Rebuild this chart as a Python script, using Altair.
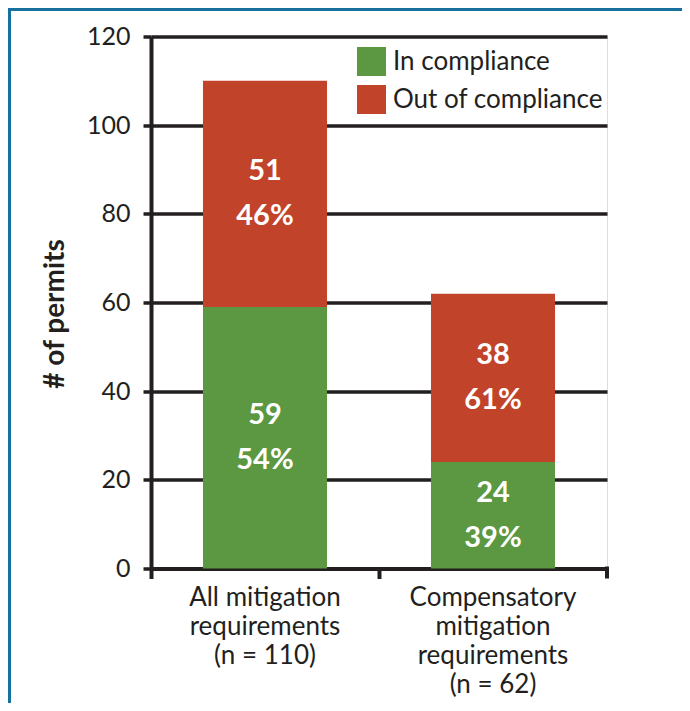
import altair as alt
import pandas as pd

categories = ["All mitigation|requirements|(n = 110)",
              "Compensatory|mitigation|requirements|(n = 62)"]
statuses = ["In compliance", "Out of compliance"]
in_counts = [59, 24]
out_counts = [51, 38]
in_pct = [54, 39]
out_pct = [46, 61]
y_ticks = [0, 20, 40, 60, 80, 100, 120]
colors = ["#5B9841", "#C1432A"]

rows = []
for i, c in enumerate(categories):
    rows.append({"category": c, "status": statuses[0], "order": 0,
                 "count": in_counts[i], "label": f"{in_counts[i]}\n{in_pct[i]}%"})
    rows.append({"category": c, "status": statuses[1], "order": 1,
                 "count": out_counts[i], "label": f"{out_counts[i]}\n{out_pct[i]}%"})
df = pd.DataFrame(rows)

INK = "#231f20"
FONT = "Lato"
W, H = 456, 532
PAD_L, PAD_T = 143, 28.5

base = alt.Chart(df).transform_stack(
    stack="count", groupby=["category"], as_=["y0", "y1"],
    sort=[alt.SortField("order", order="ascending")]
).transform_calculate(mid="(datum.y0 + datum.y1) / 2")

x_enc = alt.X("category:N", sort=categories, title=None,
              scale=alt.Scale(paddingInner=0, paddingOuter=0),
              axis=alt.Axis(labelExpr="split(datum.label, '|')", labelAngle=0,
                            labelFont=FONT, labelFontSize=26, labelLineHeight=29,
                            labelColor=INK, labelPadding=6,
                            domainColor=INK, domainWidth=4,
                            tickColor=INK, tickWidth=4, tickSize=10,
                            bandPosition=0, grid=False))

bars = base.mark_bar(width={"band": 0.544}).encode(
    x=x_enc,
    y=alt.Y("y0:Q", title="# of permits",
            scale=alt.Scale(domain=[0, 120], nice=False),
            axis=alt.Axis(values=y_ticks, labelFont=FONT, labelFontSize=25,
                          labelColor=INK, labelPadding=13,
                          tickColor=INK, tickWidth=3.5, tickSize=8,
                          domainColor=INK, domainWidth=4,
                          grid=True, gridColor=INK, gridWidth=3.5,
                          titleFont=FONT, titleFontSize=28, titleFontWeight="bold",
                          titleColor=INK, titleX=-88, titleY=277,
                          titleBaseline="alphabetic", titleAngle=270)),
    y2="y1:Q",
    color=alt.Color("status:N", scale=alt.Scale(domain=statuses, range=colors),
                    legend=alt.Legend(title=None, orient="none", legendX=206, legendY=10.5,
                                      symbolType="square", symbolSize=841,
                                      symbolStrokeWidth=0, symbolOpacity=1,
                                      labelFont=FONT, labelFontSize=26, labelColor=INK,
                                      labelLimit=0,
                                      labelOffset=7, rowPadding=9, padding=0)),
)

labels = base.mark_text(font=FONT, fontSize=29, fontWeight="bold", color="white",
                        lineBreak="\n", lineHeight=45, baseline="middle",
                        align="center", dy=-22.5).encode(
    x=alt.X("category:N", sort=categories),
    y=alt.Y("mid:Q"),
    text="label:N",
)

one = alt.Chart(pd.DataFrame({"a": [0]}))
end_tick = one.mark_rule(color=INK, strokeWidth=4).encode(
    x=alt.value(W), y=alt.value(H - 2), y2=alt.value(H + 10))
border_top = one.mark_rule(color="#16719F", strokeWidth=3).encode(
    x=alt.value(-PAD_L), x2=alt.value(690 - 8 - PAD_L), y=alt.value(-PAD_T + 1.5))
border_left = one.mark_rule(color="#16719F", strokeWidth=3).encode(
    x=alt.value(-PAD_L + 1.5), y=alt.value(-PAD_T), y2=alt.value(711 - 8 - PAD_T))

chart = alt.layer(bars, labels, end_tick, border_top, border_left).properties(
    width=W, height=H,
    autosize=alt.AutoSizeParams(type="none"),
    padding={"left": PAD_L, "top": PAD_T, "right": 690 - 16 - PAD_L - W,
             "bottom": 711 - 16 - PAD_T - H},
).configure_view(stroke=None).configure(font=FONT)

chart.save("out.html", embed_options={"renderer": "svg", "actions": False})
